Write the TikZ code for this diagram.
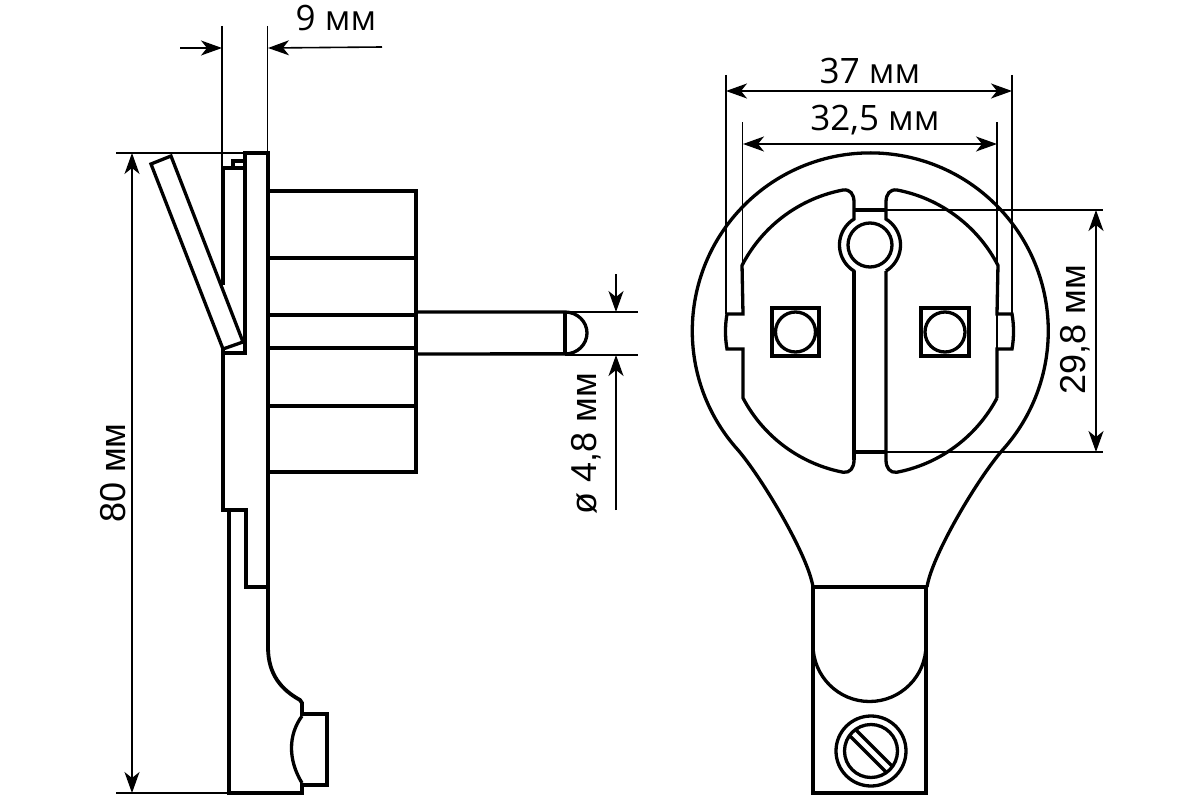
\documentclass[tikz,border=0pt]{standalone}
\usepackage{fontspec}
\setmainfont{Open Sans}
\newfontfamily\rotfont{Liberation Sans}
\usetikzlibrary{arrows.meta,calc}
\tikzset{
  heavy/.style={line width=3.8pt,line join=miter,line cap=butt},
  medium/.style={line width=3.3pt},
  thin line/.style={line width=1.6pt},
  dimline/.style={line width=1.6pt,{Stealth[length=21pt,width=15pt,inset=6pt]}-{Stealth[length=21pt,width=15pt,inset=6pt]}},
  toarrow/.style={line width=1.6pt,-{Stealth[length=21pt,width=15pt,inset=6pt]}},
  label/.style={inner sep=0pt,font=\fontsize{35}{35}\selectfont},
  rotlabel/.style={inner sep=0pt,rotate=90,font=\rotfont\fontsize{36}{36}\selectfont},
}
\begin{document}
\begin{tikzpicture}[x=1pt,y=1pt,yscale=-1]
\useasboundingbox (0,0) rectangle (1200,800);

% ---- side view: dimension lines
\draw[thin line] (222,26) -- (222,168);
\draw[thin line] (267.5,26) -- (267.5,153);
\draw[toarrow] (180,48) -- (222,48);
\draw[toarrow] (382,47) -- (268,48);
\draw[thin line] (116,153) -- (245,153);
\draw[thin line] (116,793) -- (229,793);
\draw[dimline] (132,153) -- (132,793);
\draw[thin line] (565,312) -- (638,312);
\draw[thin line] (565,355) -- (638,355);
\draw[toarrow] (616,274) -- (616,312);
\draw[toarrow] (616,510) -- (616,355);

% ---- side view: body
\draw[heavy] (245,353) -- (245,153) -- (268,153) -- (268,647)
  .. controls (268,675) and (282,690) .. (300,700) -- (302,703) -- (302,714)
  -- (327,714) -- (327,785) -- (302,785) -- (302,793) -- (229,793) -- (229,510);
\draw[heavy] (223,285) -- (223,168) -- (245,168);
\draw[medium] (233,168) -- (233,161) -- (245,161);
\draw[heavy] (223,349) -- (223,510) -- (246,510) -- (246,587) -- (268,587);
\draw[medium] (302,716) .. controls (288,735) and (288,760) .. (302,783);
\draw[medium,fill=white] (151,164) -- (171,156) -- (243,342) -- (223,349) -- cycle;
\draw[medium] (223,353) -- (245,353) -- (245,330);
\draw[heavy] (268,191) -- (416,191) -- (416,472) -- (268,472);
\draw[medium] (268,258) -- (416,258);
\draw[medium] (268,315) -- (416,315);
\draw[medium] (268,348) -- (416,348);
\draw[medium] (268,406) -- (416,406);
% pin
\draw[medium] (416,312) -- (565,312) arc[start angle=-90,end angle=90,x radius=22pt,y radius=21pt] -- (416,354);
\draw[heavy] (490,353.5) -- (565,353.5);
\draw[medium] (565,312) -- (565,354);

% ---- front view: dimension lines
\draw[thin line] (726,75) -- (726,314);
\draw[thin line] (742.5,122) -- (742.5,265);
\draw[thin line] (997,122) -- (997,265);
\draw[thin line] (1012,75) -- (1012,313);
\draw[thin line] (997,314) -- (997,349);
\draw[dimline] (726,91) -- (1012,91);
\draw[dimline] (743,144) -- (997,144);
\draw[thin line] (886,210) -- (1103,210);
\draw[thin line] (886,452) -- (1103,452);
\draw[dimline] (1096,210) -- (1096,452);

% ---- front view: outline
\draw[medium] (813,587) .. controls (808,555) and (762,478) .. (738,450)
  arc[start angle=138,end angle=402,radius=178pt]
  .. controls (978,478) and (932,555) .. (927,587);
\draw[heavy] (813,587) -- (813,793) -- (926,793) -- (926,587) -- cycle;
\draw[medium] (813,645) arc[start angle=180,end angle=0,radius=56.5pt];
\draw[medium] (871,751) circle[radius=35pt];
\draw[medium] (871,751) circle[radius=26.5pt];
\begin{scope}[shift={(871,751)},rotate=45]
  \draw[medium] (-25,-4.2) -- (25,-4.2);
  \draw[medium] (-25,4.2) -- (25,4.2);
\end{scope}

% ---- socket halves
\draw[medium] (854,271) arc[start angle=121.6,end angle=238.4,radius=30.5pt] -- (854,202)
  .. controls (854,194) and (850,189) .. (843,190)
  arc[start angle=259.2,end angle=207.3,radius=144pt]
  -- (743,314) -- (727,314) .. controls (725,325) and (725,338) .. (727,349) -- (743,349) -- (743,398)
  arc[start angle=152.2,end angle=100.8,radius=144pt]
  .. controls (850,473) and (854,468) .. (854,460) -- cycle;
\draw[medium] (886,271) arc[start angle=58.4,end angle=-58.4,radius=30.5pt] -- (886,202)
  .. controls (886,194) and (890,189) .. (897,190)
  arc[start angle=-79.2,end angle=-27.3,radius=144pt]
  -- (997,314) -- (1012,314) .. controls (1014,325) and (1014,338) .. (1012,349) -- (997,349) -- (997,398);
\draw[medium] (997,398) arc[start angle=27.8,end angle=79.2,radius=144pt]
  .. controls (890,473) and (886,468) .. (886,460) -- (886,271);
\draw[heavy] (854,271) -- (854,460);
\draw[medium] (854,210) -- (886,210);
\draw[medium] (854,452) -- (886,452);
\draw[medium] (870,245) circle[radius=22pt];
\draw[medium] (772,308) rectangle (819,356);
\draw[medium] (795.5,332) circle[radius=20pt];
\draw[medium] (921,308) rectangle (969,356);
\draw[medium] (945,332) circle[radius=20pt];

% ---- labels
\node[label] (l9) at (336,18) {9 мм};
\node[label] (l37) at (870,71) {37 мм};
\node[label] (l32) at (875,120) {32,5 мм};
\node[rotlabel] (l80) at (113,473) {80 мм};
\node[rotlabel] (l48) at (586,444) {ø 4,8 мм};
\node[rotlabel] (l29) at (1075,330) {29,8 мм};
\end{tikzpicture}
\end{document}
